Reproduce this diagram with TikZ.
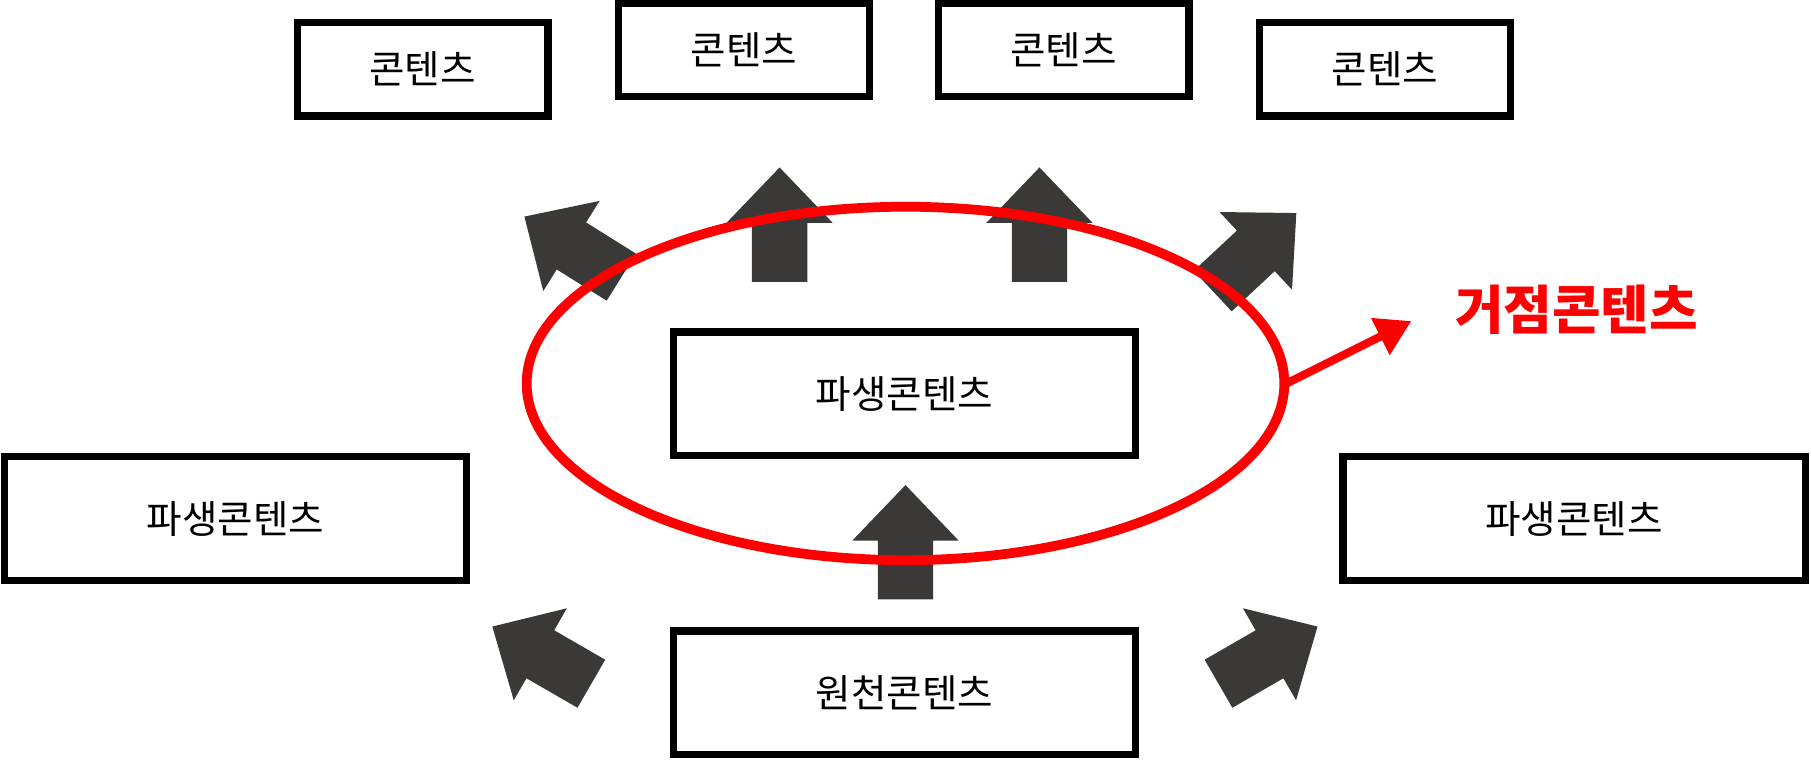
\documentclass[tikz,border=0pt]{standalone}
\usepackage{fontspec}
\setmainfont{Noto Sans CJK KR}
\usetikzlibrary{positioning, arrows.meta}
\definecolor{arrowgray}{HTML}{3A3937}
\definecolor{hubred}{HTML}{FF0000}
\tikzset{
x=0.01cm, y=0.01cm,
box/.style={draw, line width=1.8pt, minimum height=0.81cm, font=\fontsize{9.5}{11}\selectfont},
smallbox/.style={box, minimum width=2.17cm},
widebox/.style={box, minimum width=4.0cm, minimum height=1.07cm},
}
% fat block arrow: base point, direction
\newcommand{\blockarrow}[3]{%
  \fill[arrowgray, shift={(#1,#2)}, rotate=#3]
    (0,-24) -- (51,-24) -- (51,-46) -- (99,0) -- (51,46) -- (51,24) -- (0,24) -- cycle;}
\begin{document}
\begin{tikzpicture}
        \useasboundingbox (0,0) rectangle (1568,-658);

        % outer content boxes
        \node[smallbox] (top1) at (366,-60) {콘텐츠};
        \node[smallbox] (top2) at (644,-43) {콘텐츠};
        \node[smallbox] (top3) at (921,-43) {콘텐츠};
        \node[smallbox] (top4) at (1199,-60) {콘텐츠};
        \node[widebox] (hub) at (783,-341) {파생콘텐츠};
        \node[widebox] (left) at (204,-449) {파생콘텐츠};
        \node[widebox] (right) at (1363,-449) {파생콘텐츠};
        \node[widebox] (source) at (783,-600) {원천콘텐츠};

        % block arrows
        \blockarrow{538}{-240}{148}
        \blockarrow{675}{-244}{90}
        \blockarrow{900}{-244}{90}
        \blockarrow{1050}{-252}{43}
        \blockarrow{784}{-519}{90}
        \blockarrow{512}{-592}{150}
        \blockarrow{1055}{-592}{30}

        % hub ellipse and label
        \draw[hubred, line width=2.4pt] (784,-332) ellipse [x radius=328, y radius=153];
        \coordinate (rim) at (1114,-332);
        \node[text=hubred, font=\bfseries\fontsize{13}{15}\selectfont] (hublabel) at (1365,-268) {거점콘텐츠};
        \coordinate (tip) at (1222,-278);
        \draw[hubred, line width=2pt, -{Triangle[length=0.3cm,width=0.34cm]}] (rim) -- (tip);
\end{tikzpicture}
\end{document}
